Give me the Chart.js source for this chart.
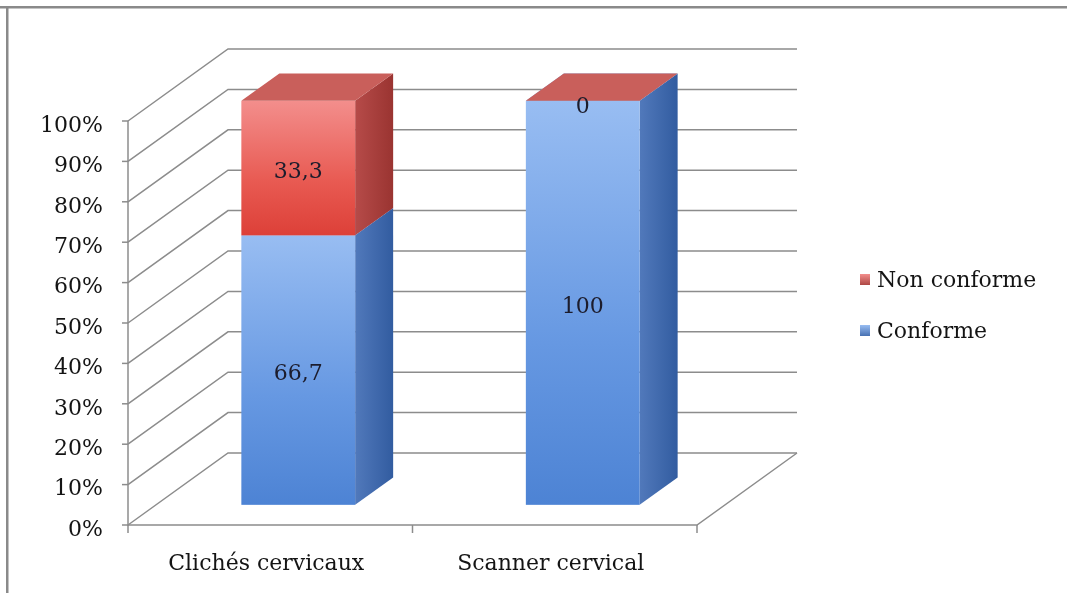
<!DOCTYPE html>
<html>
<head>
<meta charset="utf-8">
<script src="https://cdn.jsdelivr.net/npm/chart.js@4.4.1/dist/chart.umd.min.js"></script>
<style>
html,body{margin:0;padding:0;background:#fff;}
#wrap{width:1067px;height:593px;}
</style>
</head>
<body>
<div id="wrap"><canvas id="c" width="1067" height="593"></canvas></div>
<script>
const categories = ['Clichés cervicaux', 'Scanner cervical'];
const conformeValues = [66.7, 100];
const nonConformeValues = [33.3, 0];
const conformeLabels = ['66,7', '100'];
const nonConformeLabels = ['33,3', '0'];
const tickValues = [0, 10, 20, 30, 40, 50, 60, 70, 80, 90, 100];
const tickLabels = ['0%', '10%', '20%', '30%', '40%', '50%', '60%', '70%', '80%', '90%', '100%'];

const FONT = '"DejaVu Serif", serif';
const DEPTH = {dx: 100, dy: -72};
const BAR_FRONT = 0.28;
const BAR_BACK = 0.66;

const palette = {
  blue: {front: ['#98bdf2', '#6698e2', '#4d83d4'], side: ['#5179bb', '#325ca0'], top: '#7fa6e0'},
  red: {front: ['#f38e8c', '#e85a52', '#dd4038'], side: ['#b64b49', '#9a3431'], top: '#c95f5b'}
};

const threeD = {
  id: 'threeD',
  beforeDatasetsDraw(chart) {
    const ctx = chart.ctx;
    const ys = chart.scales.y, xs = chart.scales.x;
    const L = chart.chartArea.left, R = chart.chartArea.right;
    ctx.save();
    // frame
    ctx.fillStyle = '#8a8a8a';
    ctx.fillRect(0, 6, chart.width, 2.5);
    ctx.fillRect(6, 6, 2.5, chart.height - 6);
    ctx.strokeStyle = '#8c8c8c';
    ctx.lineWidth = 1.5;
    // wall gridlines
    tickValues.forEach(v => {
      const y = ys.getPixelForValue(v);
      ctx.beginPath();
      ctx.moveTo(L, y);
      ctx.lineTo(L + DEPTH.dx, y + DEPTH.dy);
      ctx.lineTo(R + DEPTH.dx, y + DEPTH.dy);
      ctx.stroke();
    });
    // floor
    const y0 = ys.getPixelForValue(0);
    ctx.beginPath();
    ctx.moveTo(L, y0);
    ctx.lineTo(R, y0);
    ctx.lineTo(R + DEPTH.dx, y0 + DEPTH.dy);
    ctx.stroke();
    // y axis line
    ctx.beginPath();
    ctx.moveTo(L, ys.getPixelForValue(100));
    ctx.lineTo(L, y0 + 1);
    ctx.stroke();
    // y ticks + labels
    ctx.fillStyle = '#141414';
    ctx.font = '22px ' + FONT;
    ctx.textAlign = 'right';
    ctx.textBaseline = 'middle';
    tickValues.forEach((v, i) => {
      const y = ys.getPixelForValue(v);
      ctx.beginPath();
      ctx.moveTo(L - 6, y);
      ctx.lineTo(L, y);
      ctx.stroke();
      ctx.fillText(tickLabels[i], L - 25, y + 5);
    });
    // x ticks + labels
    const n = categories.length;
    const cw = (R - L) / n;
    for (let i = 0; i <= n; i++) {
      const x = L + i * cw;
      ctx.beginPath();
      ctx.moveTo(x, y0);
      ctx.lineTo(x, y0 + 8);
      ctx.stroke();
    }
    ctx.textAlign = 'center';
    categories.forEach((c, i) => {
      ctx.fillText(c, xs.getPixelForValue(i) - 4, y0 + 39);
    });
    // legend (reverse order)
    const items = chart.data.datasets.map((d, i) => ({label: d.label, col: d._col})).reverse();
    ctx.textAlign = 'left';
    items.forEach((it, k) => {
      const y = 281 + k * 51;
      const p = palette[it.col];
      const g = ctx.createLinearGradient(0, y - 7, 0, y + 7);
      g.addColorStop(0, p.front[0]);
      g.addColorStop(1, p.side[1]);
      ctx.fillStyle = g;
      ctx.fillRect(860, y - 7, 10, 11);
      ctx.fillStyle = '#141414';
      ctx.fillText(it.label, 877, y);
    });
    ctx.restore();
  },
  afterDatasetsDraw(chart) {
    const ctx = chart.ctx;
    const fx = DEPTH.dx * BAR_FRONT, fy = DEPTH.dy * BAR_FRONT;
    const bx = DEPTH.dx * (BAR_BACK - BAR_FRONT), by = DEPTH.dy * (BAR_BACK - BAR_FRONT);
    const n = chart.data.labels.length;
    ctx.save();
    const labelsToDraw = [];
    for (let i = 0; i < n; i++) {
      chart.data.datasets.forEach((ds, di) => {
        const el = chart.getDatasetMeta(di).data[i];
        const p = palette[ds._col];
        const x0 = el.x - el.width / 2 + fx, x1 = el.x + el.width / 2 + fx;
        const yt = Math.min(el.y, el.base) + fy, yb = Math.max(el.y, el.base) + fy;
        if (yb - yt > 0.5) {
          // side face
          const sg = ctx.createLinearGradient(x1, 0, x1 + bx, 0);
          sg.addColorStop(0, p.side[0]);
          sg.addColorStop(1, p.side[1]);
          ctx.fillStyle = sg;
          ctx.beginPath();
          ctx.moveTo(x1, yt);
          ctx.lineTo(x1 + bx, yt + by);
          ctx.lineTo(x1 + bx, yb + by);
          ctx.lineTo(x1, yb);
          ctx.closePath();
          ctx.fill();
          // front face
          const fg = ctx.createLinearGradient(0, yt, 0, yb);
          fg.addColorStop(0, p.front[0]);
          fg.addColorStop(0.6, p.front[1]);
          fg.addColorStop(1, p.front[2]);
          ctx.fillStyle = fg;
          ctx.fillRect(x0, yt, x1 - x0, yb - yt);
        }
        // top face
        ctx.fillStyle = p.top;
        ctx.beginPath();
        ctx.moveTo(x0, yt);
        ctx.lineTo(x1, yt);
        ctx.lineTo(x1 + bx, yt + by);
        ctx.lineTo(x0 + bx, yt + by);
        ctx.closePath();
        ctx.fill();
        labelsToDraw.push({x: (x0 + x1) / 2, y: (yt + yb) / 2, t: ds._labels[i], h: yb - yt, top: yt});
      });
    }
    ctx.font = '22px ' + FONT;
    ctx.fillStyle = '#1c1c2c';
    ctx.textAlign = 'center';
    ctx.textBaseline = 'middle';
    labelsToDraw.forEach(l => {
      const y = l.h < 1 ? l.top + 6 : l.y + 4;
      ctx.fillText(l.t, l.x, y);
    });
    ctx.restore();
  }
};

new Chart(document.getElementById('c'), {
  type: 'bar',
  data: {
    labels: categories,
    datasets: [
      {label: 'Conforme', data: conformeValues, _col: 'blue', _labels: conformeLabels,
       backgroundColor: 'rgba(0,0,0,0)', borderWidth: 0, categoryPercentage: 1, barPercentage: 0.4},
      {label: 'Non conforme', data: nonConformeValues, _col: 'red', _labels: nonConformeLabels,
       backgroundColor: 'rgba(0,0,0,0)', borderWidth: 0, categoryPercentage: 1, barPercentage: 0.4}
    ]
  },
  options: {
    responsive: false,
    animation: false,
    devicePixelRatio: 1,
    layout: {padding: {left: 128, right: 370, top: 121, bottom: 68}},
    plugins: {legend: {display: false}, tooltip: {enabled: false}},
    scales: {
      x: {display: false, stacked: true},
      y: {display: false, stacked: true, min: 0, max: 100}
    }
  },
  plugins: [threeD]
});
</script>
</body>
</html>
